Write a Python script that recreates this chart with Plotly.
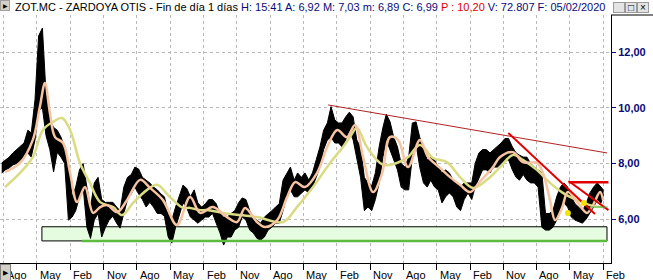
import plotly.graph_objects as go

# ---------------- data ----------------
month_dates = [f"{y}-{m:02d}-15" for y in range(2006, 2021) for m in range(1, 13)]
month_dates = [d for d in month_dates if "2006-07-15" <= d <= "2020-01-15"] + ["2020-02-05"]

price_high = [
    8.02, 8.13, 8.23, 8.38, 8.49, 8.60,
    8.74, 9.20, 9.10, 10.30, 12.60, 12.88, 10.50, 9.57, 9.30, 9.20, 8.95, 8.60,
    8.00, 6.80, 7.15, 7.77, 8.00, 7.15, 6.43, 7.30, 7.50, 6.70, 6.60, 6.60,
    6.60, 6.43, 6.30, 7.15, 7.50, 7.60, 7.87, 7.80, 7.50, 7.40, 7.30, 7.15,
    7.05, 6.90, 6.80, 6.20, 5.96, 6.43, 6.80, 7.22, 7.10, 6.80, 7.05, 6.58,
    6.43, 6.55, 6.70, 6.70, 6.55, 6.20, 6.07, 6.07, 6.20, 6.30, 6.58, 6.76,
    6.70, 6.30, 6.07, 5.96, 5.85, 6.07, 6.20, 6.30, 6.43, 6.55, 7.40, 7.66,
    7.87, 7.40, 7.66, 7.50, 7.66, 7.40, 7.66, 8.13, 8.60, 9.20, 9.46, 10.05,
    9.57, 9.46, 9.46, 9.68, 9.85, 9.68, 8.85, 8.60, 7.50, 7.30, 7.20, 7.66,
    8.60, 9.30, 9.78, 9.50, 8.95, 8.60, 8.00, 7.87, 8.23, 9.46, 9.50, 8.95,
    8.50, 8.13, 8.23, 8.13, 7.87, 7.66, 7.77, 7.66, 7.40, 7.30, 7.15, 7.30,
    7.30, 7.30, 8.00, 8.38, 8.50, 8.50, 8.38, 8.50, 8.60, 8.74, 8.90, 8.90,
    8.60, 8.38, 8.30, 8.23, 8.23, 8.00, 7.87, 7.77, 7.66, 6.20, 6.20, 6.30,
    6.80, 7.15, 7.30, 7.15, 6.80, 6.55, 6.43, 6.30, 6.55, 6.94, 7.15, 7.30,
    7.15, 7.03,
]
price_low = [
    7.66, 7.77, 7.84, 7.95, 8.00, 8.10,
    8.23, 8.38, 8.23, 8.85, 9.90, 10.00, 9.00, 8.50, 7.70, 8.40, 8.23, 8.00,
    5.96, 6.07, 6.30, 6.80, 7.15, 5.70, 5.30, 5.96, 6.20, 5.35, 5.70, 5.96,
    6.10, 5.85, 5.67, 6.20, 6.70, 6.90, 7.15, 6.90, 6.70, 6.43, 6.60, 6.43,
    6.20, 6.20, 6.10, 5.35, 5.13, 5.70, 6.10, 6.58, 6.40, 6.07, 5.96, 5.85,
    5.96, 6.07, 6.07, 6.20, 5.85, 5.50, 5.06, 5.35, 5.35, 5.60, 5.70, 6.07,
    5.96, 5.60, 5.50, 5.30, 5.24, 5.35, 5.60, 5.70, 5.85, 5.85, 6.30, 6.80,
    7.05, 6.80, 6.80, 6.94, 7.05, 6.94, 7.15, 7.50, 7.87, 8.50, 8.85, 8.95,
    8.74, 8.74, 8.60, 8.85, 9.20, 8.85, 8.13, 7.50, 6.30, 6.43, 6.30, 6.70,
    7.30, 8.23, 8.85, 8.50, 8.13, 7.77, 7.15, 7.05, 7.05, 8.23, 8.70, 7.87,
    7.30, 7.15, 7.40, 7.15, 7.05, 6.58, 6.80, 6.94, 6.80, 6.43, 6.30, 6.70,
    6.94, 6.70, 7.15, 7.50, 7.77, 7.77, 7.66, 7.87, 7.87, 8.00, 8.13, 8.13,
    7.77, 7.50, 7.40, 7.60, 7.40, 7.30, 7.30, 7.15, 5.70, 5.60, 5.60, 5.70,
    5.96, 6.30, 6.58, 6.43, 6.07, 5.96, 5.90, 5.85, 6.00, 6.20, 6.43, 6.70,
    6.58, 6.89,
]

ma_fast_dates = [
    "2006-08-11", "2006-12-13", "2007-03-28", "2007-05-25", "2007-07-06", "2007-08-16",
    "2007-09-27", "2007-12-02", "2008-01-29", "2008-03-26", "2008-05-31", "2008-08-05",
    "2008-10-02", "2008-11-29", "2009-02-20", "2009-05-11", "2009-08-27", "2009-11-17",
    "2010-03-03", "2010-06-27", "2010-10-12", "2011-01-03", "2011-04-18", "2011-08-12",
    "2011-11-03", "2012-01-08", "2012-04-15", "2012-06-20", "2012-09-28", "2012-12-19",
    "2013-02-23", "2013-05-14", "2013-08-22", "2013-11-13", "2014-02-04", "2014-04-25",
    "2014-06-30", "2014-09-05", "2014-11-26", "2015-02-09", "2015-04-14", "2015-06-19",
    "2015-09-10", "2015-12-17", "2016-02-22", "2016-05-30", "2016-08-21", "2016-11-11",
    "2017-02-02", "2017-04-24", "2017-08-09", "2017-10-06", "2018-01-21", "2018-04-12",
    "2018-08-05", "2018-09-24", "2018-11-21", "2019-01-02", "2019-02-28", "2019-04-17",
    "2019-07-08", "2019-09-21", "2019-11-10", "2020-01-07", "2020-02-01",
]
ma_fast = [
    7.69, 8.02, 8.85, 10.04, 10.90, 9.82,
    8.95, 8.74, 7.66, 6.61, 7.15, 6.22,
    6.43, 6.50, 6.25, 6.68, 7.41, 7.12,
    6.68, 5.78, 6.79, 6.22, 6.43, 6.07,
    5.89, 6.40, 5.89, 5.71, 5.96, 6.79,
    7.33, 7.15, 7.66, 8.59, 9.21, 8.95,
    9.39, 8.23, 6.97, 7.66, 8.95, 8.85,
    7.87, 8.85, 8.23, 7.84, 7.51, 7.23,
    6.97, 7.35, 7.87, 8.23, 8.41, 8.05,
    8.02, 7.66, 6.68, 5.96, 6.40, 6.97,
    6.58, 6.22, 6.50, 6.97, 6.68,
]

ma_slow_dates = [
    "2006-08-11", "2006-12-13", "2007-03-28", "2007-06-19", "2007-09-10", "2007-11-23",
    "2008-01-29", "2008-04-19", "2008-07-10", "2008-10-02", "2009-01-17", "2009-03-31",
    "2009-06-30", "2009-10-23", "2010-01-14", "2010-04-29", "2010-08-15", "2010-10-12",
    "2011-01-03", "2011-02-28", "2011-07-09", "2011-11-27", "2012-04-15", "2012-11-16",
    "2013-03-10", "2013-07-20", "2013-12-07", "2014-03-23", "2014-05-20", "2014-07-16",
    "2014-10-07", "2015-02-17", "2015-06-10", "2015-09-10", "2015-12-17", "2016-04-02",
    "2016-07-26", "2016-11-11", "2017-02-27", "2017-06-20", "2017-10-06", "2018-01-21",
    "2018-04-12", "2018-08-05", "2018-11-21", "2019-03-07", "2019-06-30", "2019-10-16",
    "2020-01-07", "2020-02-01",
]
ma_slow = [
    7.15, 7.66, 8.23, 9.21, 9.50, 9.64,
    9.21, 8.02, 7.30, 6.61, 6.43, 6.14,
    6.58, 7.05, 7.23, 6.79, 6.40, 6.40,
    6.32, 6.32, 6.22, 6.14, 6.07, 5.89,
    6.43, 7.15, 8.02, 8.59, 8.95, 9.28,
    8.59, 7.95, 8.02, 8.23, 8.67, 8.20,
    8.05, 7.51, 7.12, 7.41, 7.87, 8.31,
    8.13, 7.77, 7.30, 6.94, 6.68, 6.50,
    6.43, 6.43,
]

# trend lines / drawings
long_trend_dates = ["2013-11-21", "2020-03-04"]
long_trend_values = [10.11, 8.38]
steep_trend_dates = ["2017-12-13", "2019-11-26"]
steep_trend_values = [9.10, 6.18]
short_trend_dates = ["2019-04-23", "2020-03-16"]
short_trend_values = [7.37, 6.32]
resist_dates = ["2019-04-23", "2020-03-16"]
resist_values = [7.32, 7.32]
target_dates = ["2019-10-16", "2020-03-10"]
target_values = [6.43, 6.43]
signal_dates = ["2019-04-17", "2019-08-27"]
signal_values = [6.22, 6.58]
zone_dates = ["2007-06-11", "2020-03-04"]
zone_values = [5.21, 5.72]
support_dates = ["2008-05-06", "2020-03-04"]
support_value = 5.21

tick_dates = ["2006-08-01", "2007-05-01", "2008-02-01", "2008-11-01", "2009-08-01",
              "2010-05-01", "2011-02-01", "2011-11-01", "2012-08-01", "2013-05-01",
              "2014-02-01", "2014-11-01", "2015-08-01", "2016-05-01", "2017-02-01",
              "2017-11-01", "2018-08-01", "2019-05-01", "2020-02-01"]
tick_text = ["Ago", "May", "Feb", "Nov", "Ago", "May", "Feb", "Nov", "Ago", "May",
             "Feb", "Nov", "Ago", "May", "Feb", "Nov", "Ago", "May", "Feb"]
y_ticks = [6, 8, 10, 12]
y_tick_text = ["6,00", "8,00", "10,00", "12,00"]

# ---------------- figure ----------------
W, H = 653, 280
L, R, T, B = 0, 42, 15, 17
PW, PH = W - L - R, H - T - B
NAVY = "#0A0A78"
FONT = "Liberation Sans"

fig = go.Figure()
fig.add_trace(go.Scatter(x=month_dates, y=price_low, mode="lines",
                         line=dict(color="black", width=1), hoverinfo="skip"))
fig.add_trace(go.Scatter(x=month_dates, y=price_high, mode="lines", fill="tonexty",
                         fillcolor="black", line=dict(color="black", width=1), hoverinfo="skip"))
fig.add_trace(go.Scatter(x=ma_slow_dates, y=ma_slow, mode="lines",
                         line=dict(color="#D9DC82", width=2.5, shape="spline")))
fig.add_trace(go.Scatter(x=ma_fast_dates, y=ma_fast, mode="lines",
                         line=dict(color="#F6C4A2", width=2.5, shape="spline")))
fig.add_trace(go.Scatter(x=long_trend_dates, y=long_trend_values, mode="lines",
                         line=dict(color="#B22222", width=1)))
fig.add_trace(go.Scatter(x=steep_trend_dates, y=steep_trend_values, mode="lines",
                         line=dict(color="#E00000", width=2)))
fig.add_trace(go.Scatter(x=short_trend_dates, y=short_trend_values, mode="lines",
                         line=dict(color="#E00000", width=2)))
fig.add_trace(go.Scatter(x=resist_dates, y=resist_values, mode="lines",
                         line=dict(color="#E00000", width=2.5)))
fig.add_trace(go.Scatter(x=target_dates, y=target_values, mode="lines",
                         line=dict(color="#4CB84C", width=1)))
fig.add_trace(go.Scatter(x=signal_dates, y=signal_values, mode="markers",
                         marker=dict(color="#F2E600", size=6)))

shapes = [
    dict(type="rect", xref="x", yref="y", x0=zone_dates[0], x1=zone_dates[1],
         y0=zone_values[0], y1=zone_values[1], fillcolor="#E6FCE0",
         line=dict(color="black", width=1), layer="between"),
    dict(type="line", xref="x", yref="y", x0=support_dates[0], x1=support_dates[1],
         y0=support_value, y1=support_value, line=dict(color="#5DBB3F", width=2.5)),
    # box around right axis (top edge)
    dict(type="line", xref="paper", yref="paper", x0=1, x1=W / PW, y0=1, y1=1,
         line=dict(color="black", width=1)),
]

ann = []
title_html = (
    "ZOT.MC - ZARDOYA OTIS - Fin de día 1 días "
    f"<span style='color:{NAVY}'>H: 15:41 A: 6,92 M: 7,03 m: 6,89 C: 6,99 </span>"
    "<span style='color:#E00000'>P : 10,20</span>"
    f"<span style='color:{NAVY}'> V: 72.807 F: 05/02/2020</span>"
)
ann.append(dict(text=title_html, xref="paper", yref="paper", x=13 / PW, y=(T + PH - 7) / PH,
                xanchor="left", yanchor="middle", showarrow=False,
                font=dict(family=FONT, size=11, color="black")))
for d, t in zip(tick_dates, tick_text):
    ann.append(dict(text=t, xref="x", yref="paper", x=d, y=-12 / PH, xanchor="left",
                    yanchor="middle", xshift=1, showarrow=False,
                    font=dict(family=FONT, size=11, color="black")))
# small grey boxes with arrows
ann.append(dict(text="\u25B6", xref="paper", yref="paper", x=0, y=-9 / PH,
                xanchor="left", yanchor="middle", showarrow=False, width=9, height=15,
                bgcolor="#D4D0C8", bordercolor="#808080", borderwidth=1, borderpad=0,
                font=dict(family=FONT, size=7, color="black")))
ann.append(dict(text="\u25B6", xref="paper", yref="paper", x=0, y=(PH + T - 6) / PH,
                xanchor="left", yanchor="middle", showarrow=False, width=8, height=9,
                bgcolor="#D4D0C8", bordercolor="#A0A0A0", borderwidth=1, borderpad=0,
                font=dict(family=FONT, size=6, color="black")))
for i, g in enumerate(["_", "\u25A1", "\u00D7"]):
    ann.append(dict(text=g, xref="paper", yref="paper", x=(613 + 12 * i) / PW,
                    y=(PH + T - 8) / PH, xanchor="left", yanchor="middle", showarrow=False,
                    width=10, height=9, bgcolor="#E4E4E4", bordercolor="#9A9A9A",
                    borderwidth=1, borderpad=0,
                    font=dict(family=FONT, size=10, color="black")))

fig.update_layout(
    width=W, height=H, margin=dict(l=L, r=R, t=T, b=B),
    paper_bgcolor="white", plot_bgcolor="white", showlegend=False,
    shapes=shapes, annotations=ann,
    xaxis=dict(type="date", range=["2006-07-01", "2020-04-06"], tickvals=tick_dates,
               showticklabels=False, ticks="outside", ticklen=6, tickcolor="black",
               showgrid=True, gridcolor="#B8B8B8", griddash="dot", gridwidth=1,
               showline=True, linecolor="black", linewidth=1, zeroline=False),
    yaxis=dict(side="right", range=[4.4144, 13.351], tickvals=y_ticks, ticktext=y_tick_text,
               ticks="outside", ticklen=4, tickcolor=NAVY,
               tickfont=dict(family=FONT, size=11, color=NAVY, weight="bold"),
               showgrid=True, gridcolor="#B8B8B8", griddash="dot", gridwidth=1,
               showline=True, linecolor="black", linewidth=1, zeroline=False),
)

fig.write_html("out.html")
